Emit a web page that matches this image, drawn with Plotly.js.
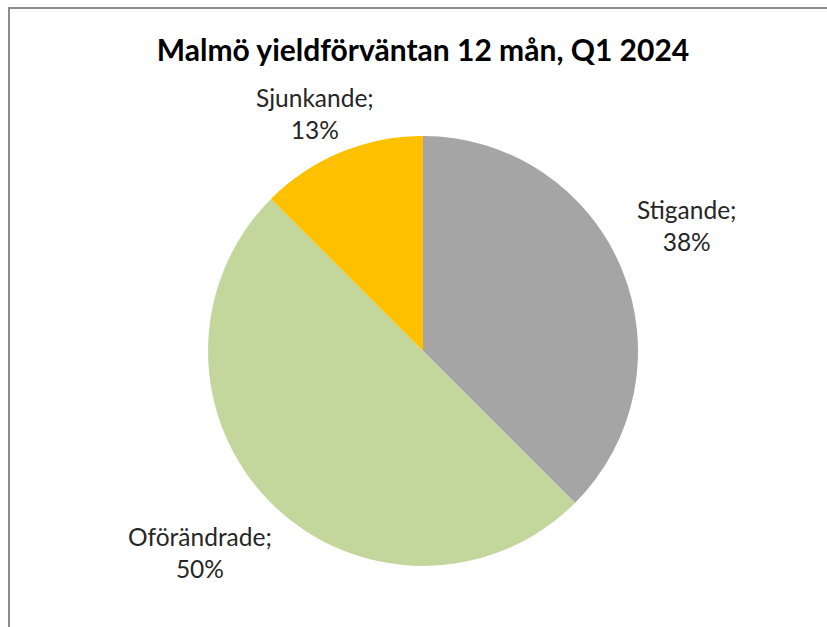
<!DOCTYPE html>
<html>
<head>
<meta charset="utf-8">
<script src="https://cdn.plot.ly/plotly-3.0.1.min.js"></script>
<style>
  html, body { margin: 0; padding: 0; background: #fff; overflow: hidden; }
  #wrap { position: relative; width: 827px; height: 627px; }
  #frame { position: absolute; left: 8px; top: 7px; width: 900px; height: 700px;
           border-left: 2px solid #8c8c8c; border-top: 2px solid #8c8c8c; pointer-events: none; }
  #chart { position: absolute; left: 0; top: 0; width: 827px; height: 627px; }
</style>
</head>
<body>
<div id="wrap">
  <div id="chart"></div>
  <div id="frame"></div>
</div>
<script>
const categories = ["Stigande", "Oförändrade", "Sjunkande"];
const shares = [37.5, 50, 12.5];
const shareLabels = ["38%", "50%", "13%"];
const sliceColors = ["#A5A5A5", "#C3D69B", "#FFC000"];
const chartTitle = "Malmö yieldförväntan 12 mån, Q1 2024";

// label placement (pixel centres in the 827x627 page), kept separate from the data
const labelCentres = [[686, 225], [200, 552], [315, 113]];

const W = 827, H = 627;
const margin = { l: 208, r: 189, t: 136, b: 61 };
const plotW = W - margin.l - margin.r;
const plotH = H - margin.t - margin.b;

const labelFont = { family: "Lato, 'Open Sans', sans-serif", size: 24.5, color: "#262626" };

const trace = {
  type: "pie",
  labels: categories,
  values: shares,
  sort: false,
  direction: "clockwise",
  rotation: 0,
  marker: { colors: sliceColors, line: { width: 0 } },
  textinfo: "none",
  hoverinfo: "none",
  showlegend: false
};

const annotations = categories.map((c, i) => ({
  text: c + ";<br>" + shareLabels[i],
  xref: "paper", yref: "paper",
  x: (labelCentres[i][0] - margin.l) / plotW,
  y: (H - margin.b - labelCentres[i][1]) / plotH,
  xanchor: "center", yanchor: "middle",
  showarrow: false,
  align: "center",
  font: labelFont
}));

const layout = {
  width: W,
  height: H,
  margin: margin,
  paper_bgcolor: "#ffffff",
  title: {
    text: "<b>" + chartTitle + "</b>",
    font: { family: "Lato, 'Open Sans', sans-serif", size: 30, color: "#000000" },
    x: 423 / W, xref: "container", xanchor: "center",
    y: 1 - 50 / H, yref: "container", yanchor: "middle"
  },
  annotations: annotations,
  showlegend: false
};

Plotly.newPlot("chart", [trace], layout, { displayModeBar: false, staticPlot: true });
</script>
</body>
</html>
